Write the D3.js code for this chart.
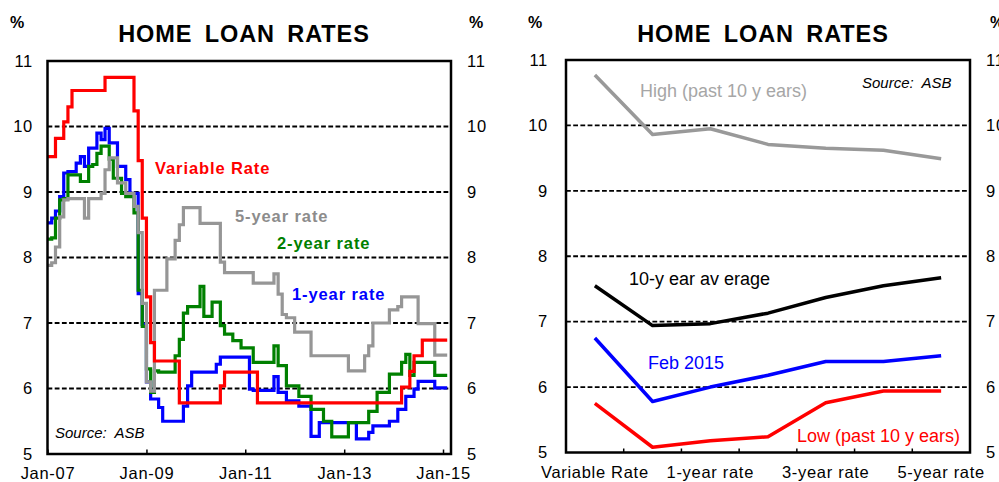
<!DOCTYPE html>
<html><head><meta charset="utf-8">
<script src="https://cdn.jsdelivr.net/npm/d3@7"></script>
<style>
body{margin:0;background:#fff}
svg{display:block}
text{font-family:"Liberation Sans",Arial,Helvetica,sans-serif}
</style>
</head><body>
<svg id="c" width="999" height="482"></svg>
<script>
// ---------- DATA (left panel: monthly, Jan-2007 .. Feb-2015) ----------
const startMonth = new Date(2007, 0, 1);
const endMonth = new Date(2015, 2, 1); // exclusive
const variableRate = [9.54,9.54,9.82,9.82,10.07,10.30,10.55,10.55,10.55,10.55,10.55,10.55,10.55,10.55,
  10.75,10.75,10.75,10.75,10.75,10.75,10.75,10.24,9.48,8.60,7.40,6.70,6.42,6.42,6.42,6.42,6.42,6.42,
  5.78,5.78,5.78,5.78,5.78,5.78,5.78,5.78,5.78,5.78,6.04,6.25,6.25,6.25,6.25,6.25,6.25,6.25,6.25,
  5.78,5.78,5.78,5.78,5.78,5.78,5.78,5.78,5.78,5.78,5.78,5.78,5.78,5.78,5.78,5.78,5.78,5.78,5.78,5.78,
  5.78,5.78,5.78,5.78,5.78,5.78,5.78,5.78,5.78,5.78,5.78,5.78,5.78,5.78,5.78,
  6.02,6.02,6.26,6.50,6.50,6.74,6.74,6.74,6.74,6.74,6.74,6.74];
const oneYearRate = [8.53,8.60,8.71,8.93,9.29,9.31,9.31,9.44,9.54,9.39,9.67,9.67,9.90,9.80,9.97,9.75,9.75,
  9.39,9.39,9.19,8.98,8.98,7.45,6.98,6.10,5.84,5.84,5.71,5.50,5.50,5.50,5.50,5.50,5.73,6.04,
  6.25,6.25,6.25,6.25,6.25,6.25,6.37,6.48,6.48,6.48,6.48,6.48,6.48,6.48,5.99,
  5.97,5.97,5.97,5.97,5.97,6.18,5.94,5.94,5.81,5.81,5.81,5.73,5.73,5.73,5.27,5.27,
  5.48,5.48,5.48,5.48,5.48,5.48,5.48,5.48,5.48,5.23,5.23,5.23,5.33,5.43,5.43,5.43,5.43,
  5.50,5.50,5.68,5.68,5.88,5.88,5.99,6.11,6.11,6.11,6.11,6.01,6.01,6.01,6.01];
const twoYearRate = [8.28,8.30,8.60,8.88,8.90,9.26,9.26,9.26,9.16,9.16,9.39,9.42,9.59,9.70,9.70,9.50,
  9.21,9.21,8.98,8.93,8.93,8.68,7.50,6.95,6.30,5.94,6.27,6.25,6.25,6.25,6.25,6.50,6.75,7.15,
  7.25,7.25,7.25,7.56,7.10,7.10,7.32,7.32,6.96,6.83,6.83,6.73,6.73,6.62,6.62,6.62,
  6.40,6.40,6.40,6.40,6.40,6.65,6.35,6.35,6.04,6.04,6.04,5.88,5.88,5.88,5.68,5.68,5.68,
  5.50,5.50,5.26,5.26,5.26,5.26,5.48,5.48,5.48,5.48,5.48,5.65,5.65,5.94,5.94,5.94,
  6.22,6.22,6.22,6.40,6.52,6.20,6.40,6.40,6.40,6.40,6.40,6.20,6.20,6.20,6.20];
const fiveYearRate = [7.88,7.92,8.16,8.62,8.88,8.90,8.90,8.90,8.90,8.60,8.90,8.90,8.90,8.98,9.34,9.52,9.52,
  9.14,9.14,8.98,8.98,8.78,8.38,7.30,6.10,5.96,7.50,7.50,7.50,7.98,7.98,8.26,8.50,
  8.76,8.76,8.76,8.76,8.52,8.52,8.52,8.52,8.52,7.93,7.77,7.77,7.77,7.77,7.77,7.77,7.77,
  7.61,7.61,7.61,7.61,7.61,7.75,7.44,7.13,7.08,7.08,6.86,6.86,6.86,6.86,
  6.50,6.50,6.50,6.50,6.50,6.50,6.50,6.50,6.50,6.27,6.27,6.27,6.27,6.50,6.65,
  7.00,7.00,7.00,7.00,7.20,7.20,7.25,7.40,7.40,7.40,7.40,6.99,6.99,6.99,6.99,6.51,6.51,6.51,6.51];
const yTicks = [5, 6, 7, 8, 9, 10, 11];
const leftXTickLabels = ["Jan-07", "Jan-09", "Jan-11", "Jan-13", "Jan-15"];

// ---------- DATA (right panel) ----------
const terms = ["Variable Rate", "6-month rate", "1-year rate", "2-year rate", "3-year rate", "4-year rate", "5-year rate"];
const termLabels = ["Variable Rate", "1-year rate", "3-year rate", "5-year rate"];
const high10y = [10.77, 9.86, 9.95, 9.71, 9.65, 9.62, 9.49];
const avg10y  = [7.55, 6.94, 6.97, 7.13, 7.37, 7.55, 7.67];
const feb2015 = [6.75, 5.78, 6.00, 6.18, 6.39, 6.39, 6.48];
const low10y  = [5.75, 5.08, 5.18, 5.24, 5.76, 5.94, 5.94];

// ---------- DRAW ----------
const svg = d3.select("#c");
const months = d3.timeMonths(startMonth, endMonth);
const parseLbl = d3.timeParse("%b-%y");

function grid(g, x0, x1, y, vals) {
  g.selectAll("line.grid").data(vals).enter().append("line")
    .attr("x1", x0).attr("x2", x1).attr("y1", d => y(d)).attr("y2", d => y(d))
    .attr("stroke", "#000").attr("stroke-width", 1.8).attr("stroke-dasharray", "4.8,2.4");
}
function yLabels(g, y, x, anchor) {
  g.selectAll(null).data(yTicks).enter().append("text")
    .attr("x", x).attr("y", d => y(d)).attr("dy", "0.35em")
    .attr("text-anchor", anchor).style("font-size", "16.5px").style("letter-spacing", "0.7px")
    .text(d => d);
}
function pct(g, x) {
  g.append("text").attr("x", x).attr("y", 28).style("font-size", "16px").style("font-weight", "bold").text("%");
}
function title(g, x) {
  g.append("text").attr("x", x).attr("y", 42).attr("text-anchor", "middle")
    .style("font-size", "23.5px").style("font-weight", "bold")
    .style("letter-spacing", "0.9px").style("word-spacing", "5px").text("HOME LOAN RATES");
}

// ---- Left panel ----
const L = {x0: 47.5, x1: 451, y0: 61, y1: 454};
const xL = d3.scaleTime().domain([startMonth, endMonth]).range([L.x0, L.x1]);
const yL = d3.scaleLinear().domain([5, 11]).range([L.y1, L.y0]);
const gl = svg.append("g");
grid(gl, L.x0, L.x1, yL, [6, 7, 8, 9, 10, 11]);

const stepLine = d3.line().x((d, i) => xL(months[i])).y(d => yL(d)).curve(d3.curveStepAfter);
const leftSeries = [
  {v: oneYearRate, c: "#0000ff"},
  {v: twoYearRate, c: "#008000"},
  {v: fiveYearRate, c: "#969696"},
  {v: variableRate, c: "#ff0000"}
];
gl.selectAll("path.s").data(leftSeries).enter().append("path")
  .attr("d", d => stepLine(d.v)).attr("fill", "none")
  .attr("stroke", d => d.c).attr("stroke-width", 3.2);

gl.append("rect").attr("x", L.x0).attr("y", L.y0).attr("width", L.x1 - L.x0).attr("height", L.y1 - L.y0)
  .attr("fill", "none").attr("stroke", "#000").attr("stroke-width", 2.5);

const xAxisL = d3.axisBottom(xL).tickValues(leftXTickLabels.map(parseLbl))
  .tickFormat(d3.timeFormat("%b-%y")).tickSizeInner(-4.5).tickSizeOuter(0).tickPadding(12.8);
gl.append("g").attr("transform", `translate(0,${L.y1})`).call(xAxisL)
  .call(a => a.select(".domain").remove())
  .call(a => a.selectAll("line").attr("stroke", "#000").attr("stroke-width", 1.5))
  .call(a => a.selectAll("text").attr("fill", "#000").style("font-size", "16.5px")
    .style("letter-spacing", "0.7px").style("font-family", '"Liberation Sans",Arial,sans-serif'));

yLabels(gl, yL, 33, "end");
yLabels(gl, yL, 467, "start");
pct(gl, 10); pct(gl, 469);
title(gl, 244);

const boldLbl = (t, x, y, c) => gl.append("text").attr("x", x).attr("y", y).attr("fill", c)
  .style("font-size", "16.5px").style("font-weight", "bold").style("letter-spacing", "0.9px").text(t);
boldLbl("Variable Rate", 155, 174, "#ff0000");
boldLbl("5-year rate", 235, 222, "#8c8c8c");
boldLbl("2-year rate", 277, 249, "#008000");
boldLbl("1-year rate", 292, 300, "#0000ff");
gl.append("text").attr("x", 55).attr("y", 438).style("font-size", "15px").style("font-style", "italic")
  .style("white-space", "pre").text("Source:  ASB");

// ---- Right panel ----
const R = {x0: 566, x1: 970, y0: 60, y1: 452.5};
const xR = d3.scaleBand().domain(terms).range([R.x0, R.x1]);
const xRc = d => xR(d) + xR.bandwidth() / 2;
const yR = d3.scaleLinear().domain([5, 11]).range([R.y1, R.y0]);
const gr = svg.append("g");
grid(gr, R.x0, R.x1, yR, [6, 7, 8, 9, 10, 11]);

const catLine = d3.line().x((d, i) => xRc(terms[i])).y(d => yR(d));
const rightSeries = [
  {v: high10y, c: "#999999"},
  {v: avg10y, c: "#000000"},
  {v: feb2015, c: "#0000ff"},
  {v: low10y, c: "#ff0000"}
];
gr.selectAll("path.s").data(rightSeries).enter().append("path")
  .attr("d", d => catLine(d.v)).attr("fill", "none")
  .attr("stroke", d => d.c).attr("stroke-width", 3.5).attr("stroke-linejoin", "round");

gr.append("rect").attr("x", R.x0).attr("y", R.y0).attr("width", R.x1 - R.x0).attr("height", R.y1 - R.y0)
  .attr("fill", "none").attr("stroke", "#000").attr("stroke-width", 2.5);

gr.selectAll("line.tk").data(terms.slice(1)).enter().append("line")
  .attr("x1", d => xR(d)).attr("x2", d => xR(d)).attr("y1", R.y1).attr("y2", R.y1 - 4)
  .attr("stroke", "#000").attr("stroke-width", 1.5);
gr.selectAll("text.xl").data(termLabels).enter().append("text")
  .attr("x", d => xRc(d)).attr("y", 478).attr("text-anchor", "middle")
  .style("font-size", "16.5px").style("letter-spacing", "0.7px").text(d => d);

yLabels(gr, yR, 548, "end");
yLabels(gr, yR, 986, "start");
pct(gr, 528); pct(gr, 990);
title(gr, 763);

const regLbl = (t, x, y, c) => gr.append("text").attr("x", x).attr("y", y).attr("fill", c)
  .style("font-size", "18px").text(t);
regLbl("High (past 10 y ears)", 640, 97, "#a6a6a6");
regLbl("10-y ear av erage", 629, 285, "#000000");
regLbl("Feb 2015", 648, 369, "#0000ff");
regLbl("Low (past 10 y ears)", 797, 442, "#ff0000");
gr.append("text").attr("x", 862).attr("y", 88).style("font-size", "15px").style("font-style", "italic")
  .style("white-space", "pre").text("Source:  ASB");
</script>
</body></html>
